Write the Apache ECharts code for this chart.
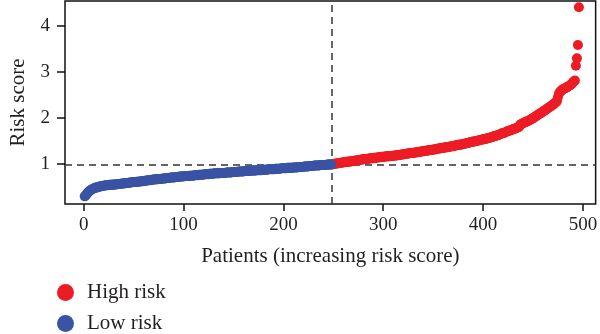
<!DOCTYPE html>
<html>
<head>
<meta charset="utf-8">
<script src="https://cdn.jsdelivr.net/npm/echarts@6/dist/echarts.min.js"></script>
<style>html,body{margin:0;padding:0;background:#fff}#c{width:600px;height:334px}</style>
</head>
<body>
<div id="c"></div>
<script>
// Sorted risk scores, low-risk group (patients 1..248)
var lowRisk = [
0.29,0.31,0.34,0.37,0.39,0.41,0.43,0.44,0.45,0.46,
0.47,0.48,0.48,0.49,0.50,0.50,0.51,0.51,0.52,0.52,
0.52,0.53,0.53,0.53,0.53,0.54,0.54,0.54,0.54,0.55,
0.55,0.55,0.55,0.56,0.56,0.56,0.56,0.57,0.57,0.57,
0.57,0.58,0.58,0.58,0.58,0.59,0.59,0.59,0.60,0.60,
0.60,0.60,0.61,0.61,0.61,0.61,0.62,0.62,0.62,0.62,
0.63,0.63,0.63,0.64,0.64,0.64,0.64,0.65,0.65,0.65,
0.66,0.66,0.66,0.66,0.67,0.67,0.67,0.67,0.68,0.68,
0.68,0.68,0.69,0.69,0.69,0.69,0.70,0.70,0.70,0.70,
0.70,0.71,0.71,0.71,0.71,0.72,0.72,0.72,0.72,0.72,
0.73,0.73,0.73,0.73,0.73,0.74,0.74,0.74,0.74,0.74,
0.75,0.75,0.75,0.75,0.75,0.76,0.76,0.76,0.76,0.76,
0.77,0.77,0.77,0.77,0.77,0.78,0.78,0.78,0.78,0.78,
0.79,0.79,0.79,0.79,0.79,0.79,0.80,0.80,0.80,0.80,
0.80,0.80,0.81,0.81,0.81,0.81,0.81,0.81,0.82,0.82,
0.82,0.82,0.82,0.82,0.83,0.83,0.83,0.83,0.83,0.83,
0.84,0.84,0.84,0.84,0.84,0.84,0.85,0.85,0.85,0.85,
0.85,0.85,0.86,0.86,0.86,0.86,0.86,0.86,0.87,0.87,
0.87,0.87,0.87,0.87,0.88,0.88,0.88,0.88,0.88,0.88,
0.88,0.89,0.89,0.89,0.89,0.89,0.89,0.90,0.90,0.90,
0.90,0.90,0.90,0.91,0.91,0.91,0.91,0.91,0.91,0.92,
0.92,0.92,0.92,0.92,0.93,0.93,0.93,0.93,0.93,0.93,
0.94,0.94,0.94,0.94,0.94,0.95,0.95,0.95,0.95,0.95,
0.96,0.96,0.96,0.96,0.96,0.96,0.97,0.97,0.97,0.97,
0.97,0.97,0.97,0.98,0.98,0.98,0.98,0.98
];
// Sorted risk scores, high-risk group (patients 249..496)
var highRisk = [
0.99,0.99,1.00,1.00,1.00,1.01,1.01,1.01,1.02,1.02,
1.02,1.03,1.03,1.03,1.04,1.04,1.04,1.05,1.05,1.05,
1.06,1.06,1.06,1.07,1.07,1.07,1.08,1.08,1.08,1.09,
1.09,1.09,1.10,1.10,1.10,1.11,1.11,1.11,1.12,1.12,
1.12,1.12,1.13,1.13,1.13,1.13,1.14,1.14,1.14,1.14,
1.15,1.15,1.15,1.15,1.16,1.16,1.16,1.16,1.17,1.17,
1.17,1.17,1.18,1.18,1.18,1.18,1.19,1.19,1.19,1.20,
1.20,1.20,1.21,1.21,1.21,1.22,1.22,1.22,1.23,1.23,
1.23,1.24,1.24,1.24,1.25,1.25,1.25,1.26,1.26,1.26,
1.27,1.27,1.27,1.28,1.28,1.28,1.29,1.29,1.30,1.30,
1.30,1.31,1.31,1.31,1.32,1.32,1.33,1.33,1.33,1.34,
1.34,1.34,1.35,1.35,1.36,1.36,1.36,1.37,1.37,1.38,
1.38,1.38,1.39,1.39,1.40,1.40,1.41,1.41,1.41,1.42,
1.42,1.43,1.43,1.44,1.44,1.45,1.45,1.46,1.46,1.47,
1.47,1.48,1.48,1.49,1.49,1.50,1.50,1.51,1.51,1.52,
1.52,1.53,1.53,1.54,1.54,1.55,1.56,1.56,1.57,1.57,
1.58,1.59,1.59,1.60,1.61,1.62,1.62,1.63,1.64,1.65,
1.66,1.66,1.67,1.68,1.69,1.70,1.71,1.71,1.72,1.73,
1.74,1.75,1.76,1.76,1.77,1.78,1.79,1.80,1.84,1.86,
1.87,1.88,1.89,1.90,1.91,1.92,1.93,1.94,1.95,1.96,
1.98,1.99,2.00,2.02,2.03,2.05,2.06,2.08,2.09,2.10,
2.12,2.13,2.15,2.16,2.18,2.19,2.21,2.22,2.24,2.25,
2.27,2.28,2.30,2.32,2.34,2.36,2.45,2.52,2.56,2.58,
2.60,2.62,2.63,2.64,2.65,2.66,2.68,2.69,2.70,2.72,
2.74,2.77,2.79,2.81,3.13,3.29,3.58,4.40
];
var cutoffPatient = 248;
var cutoffScore = 0.985;
var xTicks = [0, 100, 200, 300, 400, 500];
var yTicks = [1, 2, 3, 4];
var seriesNames = ['High risk', 'Low risk'];
var xTitle = 'Patients (increasing risk score)';
var yTitle = 'Risk score';

var lowData = lowRisk.map(function (v, i) { return [i + 1, v]; });
var highData = highRisk.map(function (v, i) { return [lowRisk.length + i + 1, v]; });

var FONT = '"Liberation Serif", serif';
var TXT = '#231f20';
var chart = echarts.init(document.getElementById('c'), null, { renderer: 'canvas' });
chart.setOption({
  animation: false,
  grid: { left: 58.3, right: 3, top: 1, bottom: 130, show: true, borderColor: '#111', borderWidth: 1.5, backgroundColor: 'transparent' },
  legend: {
    data: seriesNames, orient: 'vertical', left: 57, top: 282, padding: 0,
    icon: 'circle', itemWidth: 17, itemHeight: 17, itemGap: 10,
    textStyle: { fontFamily: FONT, fontSize: 21, color: TXT, padding: [0, 0, 0, 8] }
  },
  xAxis: {
    type: 'value', min: -18.75, max: 512.75,
    name: xTitle, nameLocation: 'middle', nameGap: 42,
    nameTextStyle: { fontFamily: FONT, fontSize: 21, color: TXT },
    axisLine: { show: false, onZero: false },
    axisTick: { show: true, length: 7, lineStyle: { color: '#111', width: 1.5 }, customValues: xTicks },
    axisLabel: { fontFamily: FONT, fontSize: 19, color: TXT, margin: 12, customValues: xTicks },
    splitLine: { show: false }
  },
  yAxis: {
    type: 'value', min: 0.124, max: 4.537,
    name: yTitle, nameLocation: 'middle', nameGap: 36, nameRotate: 90,
    nameTextStyle: { fontFamily: FONT, fontSize: 21, color: TXT },
    axisLine: { show: false, onZero: false },
    axisTick: { show: true, length: 8, lineStyle: { color: '#111', width: 1.5 }, customValues: yTicks },
    axisLabel: { fontFamily: FONT, fontSize: 19, color: TXT, margin: 15, customValues: yTicks },
    splitLine: { show: false }
  },
  series: [
    {
      name: seriesNames[0], type: 'scatter', data: highData, symbolSize: 10, z: 3,
      itemStyle: { color: '#ed1c24', opacity: 1 }
    },
    {
      name: seriesNames[1], type: 'scatter', data: lowData, symbolSize: 10, z: 3,
      itemStyle: { color: '#3a53a4', opacity: 1 },
      markLine: {
        silent: true, symbol: 'none', z: 1, label: { show: false },
        lineStyle: { color: '#333', width: 1.5, type: [7, 5] },
        data: [{ xAxis: cutoffPatient }, { yAxis: cutoffScore }]
      }
    }
  ]
});
</script>
</body>
</html>
